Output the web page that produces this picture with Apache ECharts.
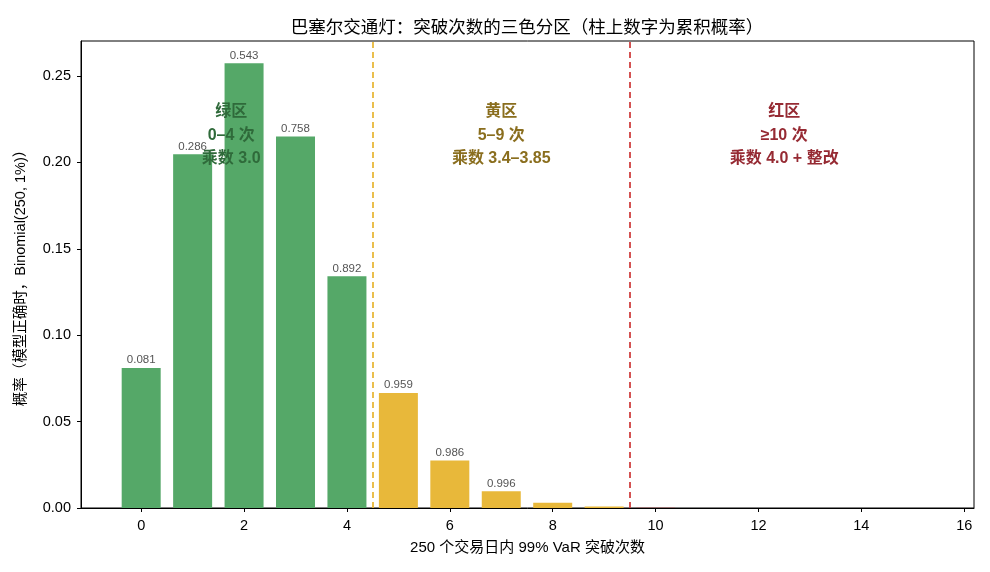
<!DOCTYPE html>
<html>
<head>
<meta charset="utf-8">
<script src="https://cdn.jsdelivr.net/npm/echarts@6/dist/echarts.min.js"></script>
<style>
  html, body { margin: 0; padding: 0; background: #fff; }
  #main { width: 990px; height: 572px; }
</style>
</head>
<body>
<div id="main"></div>
<script>
// 突破次数 k 与对应概率 Binomial(250, 1%)
var breaches = [0, 1, 2, 3, 4, 5, 6, 7, 8, 9, 10, 11, 12, 13, 14, 15, 16];
var probs = [0.0811, 0.2047, 0.2574, 0.2150, 0.1341, 0.0666, 0.0275, 0.0097, 0.0030, 0.0008,
  0.0002, 0.00004, 0.00001, 0, 0, 0, 0];
// 柱上数字：累积概率
var cumLabels = ["0.081", "0.286", "0.543", "0.758", "0.892", "0.959", "0.986", "0.996"];
var xTicks = [0, 2, 4, 6, 8, 10, 12, 14, 16];
var yTicks = [0, 0.05, 0.10, 0.15, 0.20, 0.25];
// 三色分区
var zoneNames = ["绿区\n0–4 次\n乘数 3.0", "黄区\n5–9 次\n乘数 3.4–3.85", "红区\n≥10 次\n乘数 4.0 + 整改"];
var zoneX = [1.75, 7, 12.5];
var zoneCuts = [4.5, 9.5];

var GREEN = "#55a868", YELLOW = "#e8b83a", RED = "#d04040";
var zoneText = ["#2f6a3a", "#8a6e1e", "#962a33"];
var font = "'Liberation Sans', 'Noto Sans CJK SC', sans-serif";

var barData = breaches.map(function (k, i) {
  var c = k <= 4 ? GREEN : (k <= 9 ? YELLOW : RED);
  return { value: [k, probs[i]], itemStyle: { color: c } };
});

var zoneData = zoneX.map(function (x, i) {
  return {
    value: [x, 0.2362],
    label: { formatter: zoneNames[i], color: zoneText[i] }
  };
});

var myChart = echarts.init(document.getElementById("main"));
var option = {
  animation: false,
  textStyle: { fontFamily: font },
  title: {
    text: "巴塞尔交通灯：突破次数的三色分区（柱上数字为累积概率）",
    left: 522,
    textAlign: "center",
    top: 14,
    textStyle: { fontSize: 17.5, fontWeight: "normal", color: "#000", fontFamily: font }
  },
  grid: {
    left: 81, right: 16, top: 41, bottom: 64,
    show: true, borderColor: "#000", borderWidth: 1, backgroundColor: "transparent"
  },
  xAxis: {
    type: "value",
    min: -1.17,
    max: 16.19,
    z: 5,
    name: "250 个交易日内 99% VaR 突破次数",
    nameLocation: "middle",
    nameGap: 32,
    nameTextStyle: { fontSize: 15, color: "#000", fontFamily: font },
    splitLine: { show: false },
    axisLine: { show: true, onZero: false, lineStyle: { color: "#000", width: 1 } },
    axisTick: { show: true, customValues: xTicks, length: 4, lineStyle: { color: "#000" } },
    axisLabel: { customValues: xTicks, fontSize: 14.5, color: "#000", margin: 11, fontFamily: font }
  },
  yAxis: {
    type: "value",
    min: 0,
    max: 0.2703,
    name: "概率（模型正确时，Binomial(250, 1%)）",
    nameLocation: "middle",
    nameGap: 53,
    nameTextStyle: { fontSize: 14.5, color: "#000", fontFamily: font },
    splitLine: { show: false },
    axisLine: { show: true, onZero: false, lineStyle: { color: "#000", width: 1 } },
    axisTick: { show: true, customValues: yTicks, length: 4, lineStyle: { color: "#000" } },
    axisLabel: {
      customValues: yTicks, fontSize: 14.5, color: "#000", margin: 10, fontFamily: font,
      formatter: function (v) { return v.toFixed(2); }
    }
  },
  series: [
    {
      type: "bar",
      data: barData,
      barWidth: 39,
      z: 2,
      label: {
        show: true,
        position: "top",
        distance: 2,
        fontSize: 11.5,
        color: "#555",
        fontFamily: font,
        formatter: function (p) { return cumLabels[p.dataIndex] || ""; }
      },
      markLine: {
        silent: true,
        symbol: "none",
        label: { show: false },
        data: [
          { xAxis: zoneCuts[0], lineStyle: { color: YELLOW, type: [6, 4], width: 1.8 } },
          { xAxis: zoneCuts[1], lineStyle: { color: RED, type: [6, 4], width: 1.8 } }
        ]
      }
    },
    {
      type: "scatter",
      data: zoneData,
      symbolSize: 0,
      silent: true,
      z: 10,
      itemStyle: { opacity: 1 },
      label: {
        show: true,
        position: "bottom",
        distance: 0,
        align: "center",
        fontSize: 16,
        fontWeight: "bold",
        lineHeight: 23.5,
        fontFamily: font
      }
    }
  ]
};
myChart.setOption(option);
</script>
</body>
</html>
